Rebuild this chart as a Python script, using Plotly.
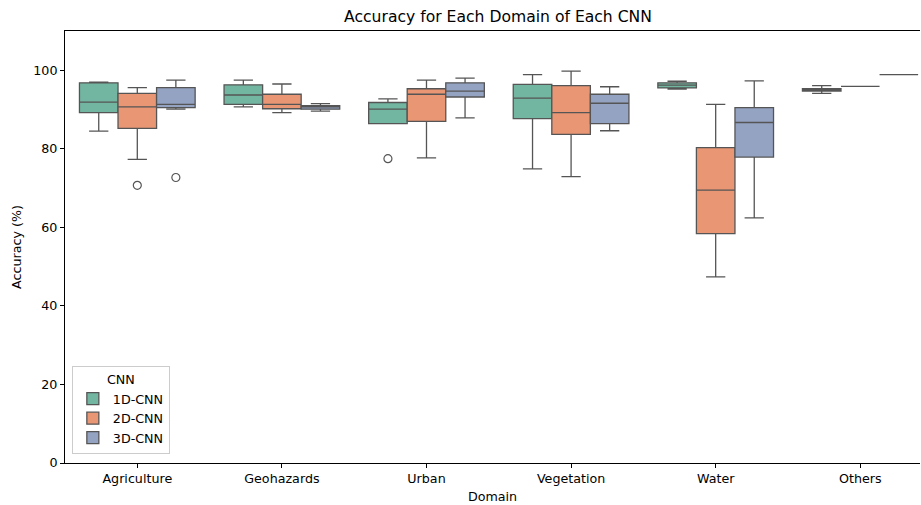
import colorsys
import plotly.graph_objects as go

domains = ["Agriculture", "Geohazards", "Urban", "Vegetation", "Water", "Others"]
cnns = ["1D-CNN", "2D-CNN", "3D-CNN"]

# precomputed box statistics per CNN, one value per domain
q1 = {
    "1D-CNN": [89.2, 91.3, 86.4, 87.7, 95.5, 94.7],
    "2D-CNN": [85.2, 90.2, 87.0, 83.7, 58.4, 95.9],
    "3D-CNN": [90.5, 90.1, 93.2, 86.4, 77.9, 98.9],
}
median = {
    "1D-CNN": [91.9, 93.7, 90.1, 92.9, 96.2, 95.0],
    "2D-CNN": [90.7, 91.3, 93.9, 89.2, 69.5, 95.9],
    "3D-CNN": [91.3, 90.7, 94.7, 91.6, 86.7, 98.9],
}
q3 = {
    "1D-CNN": [96.8, 96.3, 91.8, 96.4, 96.8, 95.3],
    "2D-CNN": [94.1, 93.9, 95.3, 96.1, 80.3, 95.9],
    "3D-CNN": [95.6, 91.0, 96.8, 93.9, 90.5, 98.9],
}
lower = {
    "1D-CNN": [84.5, 90.7, 86.4, 74.9, 95.2, 94.1],
    "2D-CNN": [77.3, 89.2, 77.7, 72.9, 47.4, 95.9],
    "3D-CNN": [90.1, 89.6, 87.9, 84.6, 62.4, 98.9],
}
upper = {
    "1D-CNN": [97.0, 97.5, 92.7, 98.9, 97.2, 96.1],
    "2D-CNN": [95.6, 96.5, 97.5, 99.8, 91.3, 95.9],
    "3D-CNN": [97.5, 91.5, 98.0, 95.8, 97.3, 98.9],
}
outlier_domain = {"1D-CNN": ["Urban"], "2D-CNN": ["Agriculture"], "3D-CNN": ["Agriculture"]}
outlier_value = {"1D-CNN": [77.5], "2D-CNN": [70.7], "3D-CNN": [72.7]}

base_colors = {"1D-CNN": "#66c2a5", "2D-CNN": "#fc8d62", "3D-CNN": "#8da0cb"}


def desat(hexc, prop=0.75):
    r, g, b = (int(hexc[i:i + 2], 16) / 255 for i in (1, 3, 5))
    h, l, s = colorsys.rgb_to_hls(r, g, b)
    r, g, b = colorsys.hls_to_rgb(h, l, s * prop)
    return "rgb(%d,%d,%d)" % (round(r * 255), round(g * 255), round(b * 255))


line_col = "#555555"
fig = go.Figure()
for c in cnns:
    fig.add_trace(go.Box(
        name=c, x=domains, q1=q1[c], median=median[c], q3=q3[c],
        lowerfence=lower[c], upperfence=upper[c],
        fillcolor=desat(base_colors[c]), line=dict(color=line_col, width=1.3),
        whiskerwidth=0.5, boxpoints=False, offsetgroup=c, legendgroup=c,
        hoverinfo="skip",
    ))
for c in cnns:
    fig.add_trace(go.Scatter(
        x=outlier_domain[c], y=outlier_value[c], mode="markers",
        marker=dict(symbol="circle-open", size=8, color=line_col, line=dict(width=1.2)),
        offsetgroup=c, showlegend=False, legendgroup=c,
    ))

font = "DejaVu Sans"
fs = 12.7
fig.update_layout(
    width=921, height=505,
    margin=dict(l=65, r=1, t=31, b=42),
    paper_bgcolor="white", plot_bgcolor="white",
    font=dict(family=font, size=fs, color="black"),
    boxmode="group", boxgap=0.2, boxgroupgap=0,
    scattermode="group", scattergap=0.2,
    title=dict(text="Accuracy for Each Domain of Each CNN", xref="container",
               x=498 / 921, xanchor="center",
               y=1 - 17 / 505, yanchor="middle", font=dict(size=15.6)),
    legend=dict(
        title=dict(text="CNN", side="top center", font=dict(size=fs)),
        x=0.008, y=0.02, xanchor="left", yanchor="bottom",
        bgcolor="rgba(255,255,255,0.8)", bordercolor="#cccccc", borderwidth=1,
        font=dict(size=fs), traceorder="normal",
    ),
    showlegend=True,
)
fig.update_xaxes(
    type="category", categoryorder="array", categoryarray=domains,
    range=[-0.5, 5.413], showline=True, linecolor="black", linewidth=1, mirror=True,
    ticks="outside", ticklen=4, tickcolor="black", showgrid=False, zeroline=False,
    tickfont=dict(size=fs),
    title=dict(text="Domain", standoff=6, font=dict(size=fs)),
)
fig.update_yaxes(
    range=[0, 110], tickvals=[0, 20, 40, 60, 80, 100],
    showline=True, linecolor="black", linewidth=1, mirror=False,
    ticks="outside", ticklen=4, tickcolor="black", showgrid=False, zeroline=False,
    tickfont=dict(size=fs),
    title=dict(text="Accuracy (%)", standoff=8, font=dict(size=fs)),
)
fig.write_html("out.html")
